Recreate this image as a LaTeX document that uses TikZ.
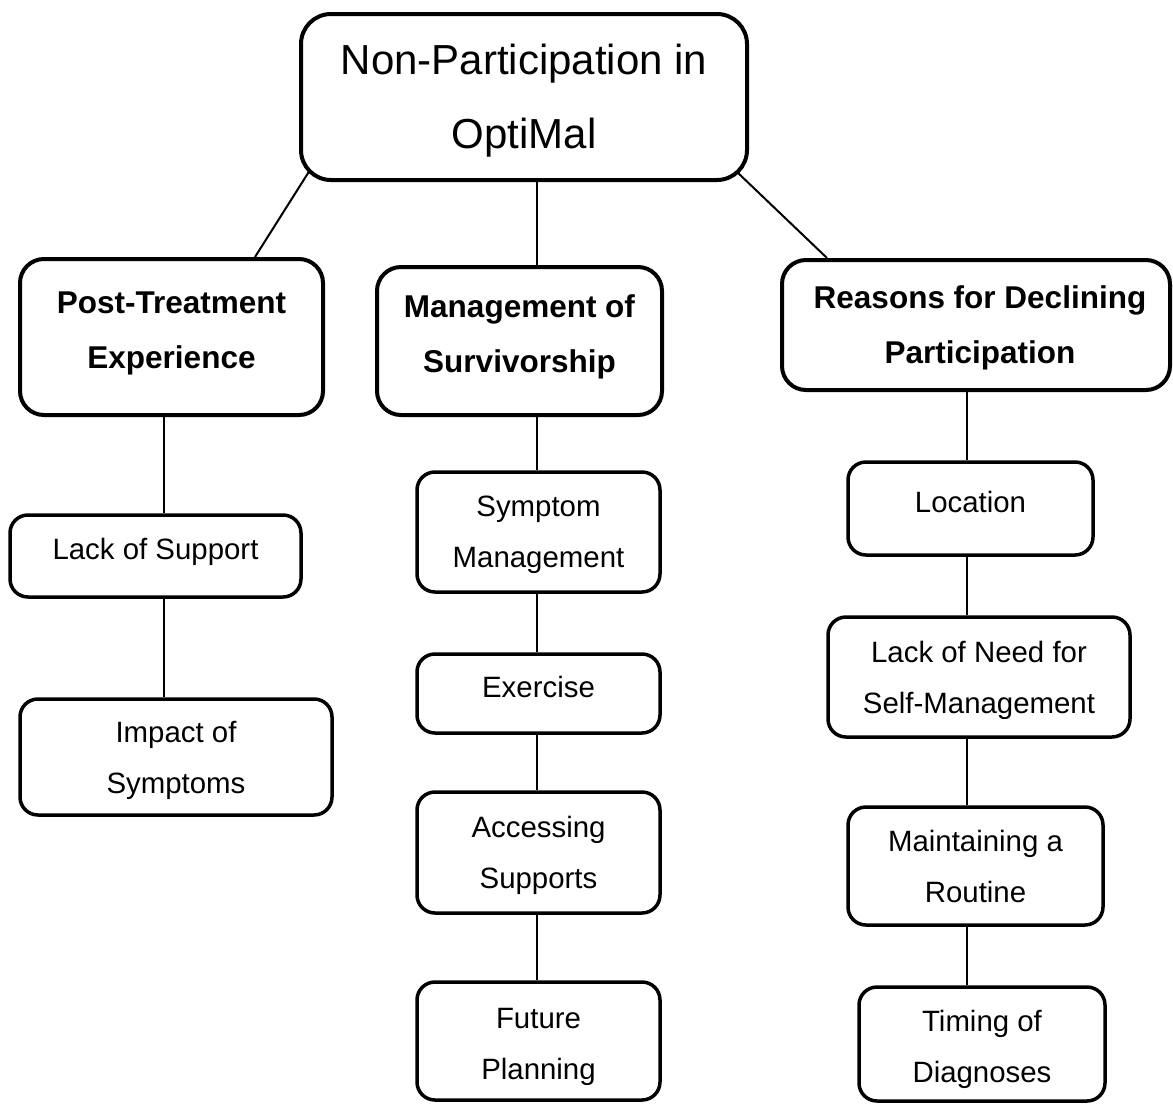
\documentclass[tikz,border=0pt]{standalone}
\usepackage{fontspec}
\setmainfont{Liberation Sans}
\usepackage{tikz}
\usetikzlibrary{positioning,calc}

\tikzset{
    rootbox/.style={draw, line width=4pt, rounded corners=30pt},
    themebox/.style={draw, line width=4pt, rounded corners=24pt},
    subbox/.style={draw, line width=3.5pt, rounded corners=18pt},
    roottext/.style={align=center, anchor=base, font=\fontsize{42}{74}\selectfont},
    themetext/.style={align=center, anchor=base, font=\fontsize{31.5}{55}\selectfont\bfseries},
    subtext/.style={align=center, anchor=base, font=\fontsize{29.4}{51}\selectfont},
    link/.style={line width=2pt}
}

\begin{document}
\begin{tikzpicture}[x=1pt,y=-1pt]
    \useasboundingbox (0,0) rectangle (1173,1104);

    % Top
    \node[rootbox, minimum width=446pt, minimum height=166pt] (root) at (524,97) {};
    \node[roottext] (root-txt) at (524,148) {Non-Participation in\\OptiMal};

    % Themes
    \node[themebox, minimum width=303pt, minimum height=156pt] (post) at (171.5,337) {};
    \node[themetext] (post-txt) at (171.5,368) {Post-Treatment\\Experience};
    \node[themebox, minimum width=285pt, minimum height=148pt] (mgmt) at (519.5,341) {};
    \node[themetext] (mgmt-txt) at (519.5,372) {Management of\\Survivorship};
    \node[themebox, minimum width=388pt, minimum height=130pt] (reasons) at (976,325) {};
    \node[themetext] (reasons-txt) at (980,363) {Reasons for Declining\\Participation};

    % Left column
    \node[subbox, minimum width=291pt, minimum height=82pt] (lack) at (155.5,556) {};
    \node[subtext] (lack-txt) at (155.5,559) {Lack of Support};
    \node[subbox, minimum width=312pt, minimum height=116pt] (impact) at (176,757) {};
    \node[subtext] (impact-txt) at (176,793) {Impact of\\Symptoms};

    % Middle column
    \node[subbox, minimum width=243pt, minimum height=120pt] (symp) at (538.5,532) {};
    \node[subtext] (symp-txt) at (538.5,567) {Symptom\\Management};
    \node[subbox, minimum width=243pt, minimum height=79pt] (exer) at (538.5,693.5) {};
    \node[subtext] (exer-txt) at (538.5,697) {Exercise};
    \node[subbox, minimum width=243pt, minimum height=121pt] (access) at (538.5,852.5) {};
    \node[subtext] (access-txt) at (538.5,888) {Accessing\\Supports};
    \node[subbox, minimum width=243pt, minimum height=118pt] (future) at (538.5,1041) {};
    \node[subtext] (future-txt) at (538.5,1079) {Future\\Planning};

    % Right column
    \node[subbox, minimum width=245pt, minimum height=93pt] (loc) at (970.5,508.5) {};
    \node[subtext] (loc-txt) at (970.5,512) {Location};
    \node[subbox, minimum width=302pt, minimum height=120pt] (need) at (979,677) {};
    \node[subtext] (need-txt) at (979,713) {Lack of Need for\\Self-Management};
    \node[subbox, minimum width=255pt, minimum height=118pt] (maint) at (975.5,866) {};
    \node[subtext] (maint-txt) at (975.5,902) {Maintaining a\\Routine};
    \node[subbox, minimum width=246pt, minimum height=114pt] (timing) at (982,1044) {};
    \node[subtext] (timing-txt) at (982,1082) {Timing of\\Diagnoses};

    % Connectors
    \coordinate (lcol) at (164,0);
    \coordinate (mcol) at (537,0);
    \coordinate (rcol) at (967,0);
    \draw[link] ([shift={(11,-12)}]root.south west) -- ([xshift=83.5pt]post.north);
    \draw[link] (root.south -| mcol) -- (mgmt.north -| mcol);
    \draw[link] ([shift={(-12,-10)}]root.south east) -- ([xshift=-149pt]reasons.north);
    \foreach \a/\b in {post/lack, lack/impact}
        \draw[link] (\a.south -| lcol) -- (\b.north -| lcol);
    \foreach \a/\b in {mgmt/symp, symp/exer, exer/access, access/future}
        \draw[link] (\a.south -| mcol) -- (\b.north -| mcol);
    \foreach \a/\b in {reasons/loc, loc/need, need/maint, maint/timing}
        \draw[link] (\a.south -| rcol) -- (\b.north -| rcol);
\end{tikzpicture}
\end{document}
